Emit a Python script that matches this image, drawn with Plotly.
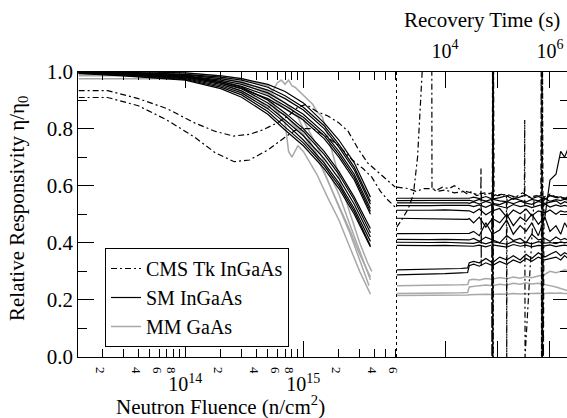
import plotly.graph_objects as go

# ---------------- data: irradiation (left panel) ----------------
F_SM = [1.25e13, 3e13, 1e14, 2e14, 3e14, 5e14, 7e14, 1e15, 1.5e15, 2e15, 2.7e15, 3.7e15]
SM_IRR = [
    [1.000, 1.000, 0.995, 0.985, 0.975, 0.955, 0.930, 0.890, 0.820, 0.760, 0.680, 0.560],
    [1.000, 0.998, 0.990, 0.980, 0.970, 0.945, 0.915, 0.875, 0.810, 0.745, 0.665, 0.545],
    [0.998, 0.995, 0.988, 0.975, 0.962, 0.935, 0.905, 0.865, 0.800, 0.735, 0.655, 0.535],
    [0.997, 0.994, 0.985, 0.970, 0.955, 0.925, 0.890, 0.850, 0.785, 0.720, 0.640, 0.520],
    [0.996, 0.992, 0.982, 0.965, 0.948, 0.915, 0.880, 0.840, 0.775, 0.710, 0.630, 0.510],
    [0.995, 0.990, 0.980, 0.960, 0.940, 0.905, 0.870, 0.830, 0.765, 0.700, 0.620, 0.500],
    [0.998, 0.995, 0.985, 0.965, 0.945, 0.900, 0.855, 0.800, 0.720, 0.650, 0.560, 0.450],
    [0.997, 0.993, 0.982, 0.960, 0.940, 0.890, 0.845, 0.790, 0.710, 0.640, 0.550, 0.435],
    [0.996, 0.990, 0.978, 0.955, 0.932, 0.880, 0.830, 0.775, 0.695, 0.625, 0.535, 0.420],
    [0.995, 0.988, 0.975, 0.950, 0.925, 0.870, 0.820, 0.760, 0.680, 0.610, 0.520, 0.405],
    [0.994, 0.986, 0.972, 0.945, 0.918, 0.860, 0.805, 0.750, 0.670, 0.600, 0.510, 0.390],
    [0.993, 0.985, 0.970, 0.940, 0.910, 0.850, 0.795, 0.740, 0.660, 0.590, 0.500, 0.385],
]

MM_F = [
    [1.25e13, 3e13, 6e13, 1e14, 1.5e14, 2e14, 3e14, 4e14, 5e14, 5.5e14, 6e14, 6.5e14, 7e14, 7.5e14, 8e14,
     8.5e14, 9e14, 1e15, 1.1e15, 1.2e15, 1.3e15, 1.45e15, 1.6e15, 1.8e15, 2.1e15, 2.5e15, 3e15, 3.5e15, 3.8e15],
    [1.25e13, 1e14, 2e14, 3e14, 4e14, 5e14, 5.5e14, 6e14, 7e14, 8e14, 1e15, 1.3e15, 1.6e15, 2e15, 2.5e15, 3e15, 3.7e15],
    [1.25e13, 1e14, 2e14, 3e14, 5e14, 6e14, 7e14, 7.5e14, 8e14, 9e14, 1e15, 1.3e15, 1.6e15, 2e15, 2.5e15, 3e15, 3.7e15],
    [1.25e13, 1e14, 2e14, 3e14, 5e14, 7e14, 9e14, 1e15, 1.3e15, 1.6e15, 2e15, 2.5e15, 3e15, 3.6e15],
    [1.25e13, 1e14, 3e14, 5e14, 7e14, 1e15, 1.3e15, 1.6e15, 2e15, 2.5e15, 3e15, 3.7e15],
]
MM_IRR = [
    [0.990, 0.995, 0.998, 0.995, 0.990, 0.985, 0.975, 0.960, 0.950, 0.930, 0.960, 0.970, 0.955, 0.970, 0.950,
     0.945, 0.935, 0.920, 0.900, 0.885, 0.860, 0.840, 0.780, 0.700, 0.600, 0.500, 0.400, 0.330, 0.300],
    [0.975, 0.975, 0.960, 0.930, 0.905, 0.870, 0.890, 0.860, 0.850, 0.820, 0.780, 0.700, 0.620, 0.530, 0.440, 0.360, 0.280],
    [0.985, 0.985, 0.970, 0.945, 0.900, 0.860, 0.820, 0.720, 0.700, 0.740, 0.720, 0.640, 0.560, 0.480, 0.380, 0.300, 0.220],
    [0.990, 0.990, 0.980, 0.960, 0.920, 0.870, 0.840, 0.800, 0.710, 0.620, 0.530, 0.430, 0.340, 0.250],
    [0.995, 0.990, 0.965, 0.930, 0.890, 0.830, 0.740, 0.660, 0.570, 0.460, 0.370, 0.270],
]

CMS_F = [
    [1.25e13, 2.2e13, 4e13, 7e13, 1.2e14, 1.8e14, 2.55e14, 3.5e14, 4.5e14, 6e14, 7.5e14, 9e14, 1.05e15,
     1.3e15, 1.6e15, 2e15, 2.4e15, 2.9e15, 3.5e15, 4.5e15, 6e15],
    [1.25e13, 2.2e13, 4e13, 7e13, 1.2e14, 1.8e14, 2.6e14, 3.5e14, 5e14, 7e14, 9e14, 1.2e15, 1.6e15,
     2e15, 2.6e15, 3.2e15, 3.8e15, 4.5e15, 5.2e15, 6e15],
]
CMS_IRR = [
    [0.933, 0.933, 0.905, 0.870, 0.820, 0.790, 0.774, 0.780, 0.795, 0.820, 0.845, 0.875, 0.885,
     0.860, 0.845, 0.820, 0.790, 0.730, 0.680, 0.640, 0.595],
    [0.909, 0.909, 0.880, 0.830, 0.770, 0.715, 0.684, 0.690, 0.725, 0.770, 0.800, 0.800, 0.770,
     0.740, 0.690, 0.660, 0.630, 0.580, 0.550, 0.525],
]

# ---------------- data: recovery (right panel) ----------------
T_REC = [1200, 2500, 5000, 10000, 20000, 27000, 29000, 35000, 45000, 60000, 80000, 1.1e5,
         1.5e5, 2e5, 2.7e5, 3.5e5, 4.5e5, 6e5, 8e5, 1e6, 1.3e6, 1.6e6, 1.9e6, 2.2e6]
SM_REC = [
    [0.556, 0.556, 0.557, 0.558, 0.558, 0.557, 0.556, 0.560, 0.555, 0.562, 0.553, 0.558, 0.565, 0.552, 0.560, 0.568, 0.555, 0.562, 0.552, 0.566, 0.558, 0.561, 0.554, 0.560],
    [0.548, 0.548, 0.548, 0.549, 0.548, 0.548, 0.549, 0.545, 0.552, 0.546, 0.553, 0.547, 0.544, 0.556, 0.548, 0.543, 0.552, 0.547, 0.556, 0.545, 0.551, 0.548, 0.553, 0.549],
    [0.540, 0.540, 0.541, 0.542, 0.541, 0.540, 0.538, 0.543, 0.536, 0.545, 0.538, 0.534, 0.544, 0.537, 0.546, 0.539, 0.535, 0.545, 0.538, 0.542, 0.547, 0.536, 0.544, 0.540],
    [0.530, 0.529, 0.530, 0.531, 0.530, 0.529, 0.531, 0.527, 0.533, 0.524, 0.535, 0.528, 0.522, 0.534, 0.527, 0.531, 0.523, 0.530, 0.536, 0.525, 0.533, 0.528, 0.531, 0.527],
    [0.514, 0.513, 0.514, 0.515, 0.514, 0.513, 0.512, 0.505, 0.518, 0.498, 0.512, 0.520, 0.490, 0.515, 0.502, 0.518, 0.495, 0.512, 0.505, 0.515, 0.500, 0.512, 0.508, 0.510],
    [0.486, 0.485, 0.484, 0.483, 0.484, 0.482, 0.485, 0.470, 0.490, 0.455, 0.485, 0.470, 0.500, 0.460, 0.490, 0.475, 0.500, 0.465, 0.490, 0.620, 0.640, 0.720, 0.700, 0.730],
    [0.432, 0.432, 0.433, 0.434, 0.433, 0.432, 0.433, 0.440, 0.425, 0.470, 0.430, 0.445, 0.480, 0.430, 0.460, 0.440, 0.470, 0.425, 0.490, 0.440, 0.460, 0.430, 0.470, 0.450],
    [0.412, 0.411, 0.411, 0.412, 0.411, 0.410, 0.410, 0.415, 0.405, 0.420, 0.410, 0.400, 0.425, 0.408, 0.415, 0.400, 0.430, 0.410, 0.415, 0.405, 0.420, 0.410, 0.415, 0.410],
    [0.402, 0.401, 0.401, 0.402, 0.401, 0.400, 0.400, 0.398, 0.403, 0.396, 0.404, 0.399, 0.395, 0.405, 0.398, 0.402, 0.396, 0.404, 0.399, 0.401, 0.397, 0.403, 0.400, 0.402],
    [0.391, 0.390, 0.390, 0.391, 0.390, 0.389, 0.390, 0.388, 0.392, 0.386, 0.393, 0.389, 0.385, 0.394, 0.388, 0.392, 0.386, 0.391, 0.389, 0.393, 0.387, 0.390, 0.392, 0.389],
    [0.305, 0.306, 0.307, 0.309, 0.310, 0.312, 0.330, 0.335, 0.330, 0.345, 0.330, 0.350, 0.340, 0.355, 0.340, 0.360, 0.345, 0.365, 0.350, 0.360, 0.370, 0.355, 0.365, 0.360],
    [0.288, 0.289, 0.290, 0.292, 0.295, 0.296, 0.320, 0.325, 0.318, 0.330, 0.320, 0.335, 0.325, 0.340, 0.330, 0.345, 0.335, 0.350, 0.340, 0.345, 0.350, 0.340, 0.355, 0.345],
]
MM_REC = [
    [0.250, 0.250, 0.251, 0.252, 0.253, 0.254, 0.270, 0.272, 0.270, 0.275, 0.272, 0.278, 0.274, 0.280, 0.276, 0.282, 0.278, 0.285, 0.290, 0.300, 0.295, 0.300, 0.305, 0.300],
    [0.222, 0.222, 0.223, 0.224, 0.225, 0.226, 0.245, 0.248, 0.250, 0.252, 0.250, 0.255, 0.252, 0.258, 0.255, 0.260, 0.256, 0.258, 0.252, 0.250, 0.245, 0.240, 0.235, 0.232],
    [0.215, 0.215, 0.216, 0.216, 0.217, 0.217, 0.218, 0.219, 0.218, 0.220, 0.219, 0.221, 0.220, 0.222, 0.221, 0.222, 0.221, 0.223, 0.222, 0.224, 0.223, 0.224, 0.222, 0.223],
]
CMS_T = [
    [1200, 2000, 2800, 4000, 5600, 7000, 9000, 12000, 15000, 20000, 27000, 32000, 40000, 48000, 48500,
     49000, 49500, 60000, 78000, 79000, 80000, 81000, 82000, 83000, 84000, 85000, 86000, 1e5, 1.5e5,
     2.2e5, 3e5, 4e5, 5.5e5, 7e5, 7.1e5, 7.2e5, 7.3e5, 7.4e5, 7.5e5, 7.7e5, 1e6, 1.5e6, 2.2e6],
    [1200, 1500, 2000, 2500, 3000, 3800, 5600, 5650, 7000, 10000, 15000, 25000, 40000, 60000, 78000,
     79000, 80500, 81500, 83000, 84000, 1.2e5, 1.48e5, 1.5e5, 1.52e5, 2.2e5, 3.25e5, 3.3e5, 3.35e5, 5e5,
     6.7e5, 6.8e5, 6.9e5, 7e5, 7.2e5, 7.4e5, 1e6, 1.5e6, 2.2e6],
]
CMS_REC = [
    [0.595, 0.590, 0.580, 0.590, 0.590, 0.585, 0.595, 0.590, 0.600, 0.585, 0.570, 0.580, 0.565, 0.570, 0.660,
     0.320, 0.570, 0.570, 0.575, 0.000, 1.050, 0.000, 1.050, 0.000, 1.050, 0.000, 0.570, 0.565, 0.570,
     0.560, 0.575, 0.560, 0.565, 0.560, 0.000, 1.050, 0.000, 1.050, 0.000, 0.560, 0.570, 0.555, 0.560],
    [0.455, 0.480, 0.520, 0.570, 0.700, 1.050, 1.050, 0.590, 0.580, 0.585, 0.575, 0.580, 0.570, 0.575, 0.570,
     0.000, 1.050, 0.000, 1.050, 0.565, 0.570, 0.565, 0.000, 0.565, 0.560, 0.565, 0.830, 0.000, 0.560,
     0.565, 1.050, 0.000, 1.050, 0.000, 0.560, 0.565, 0.560, 0.555],
]

FIG_W, FIG_H = 567, 418
FONT = '"Liberation Serif", "Times New Roman", Times, serif'

fig = go.Figure()

BLACK = "black"
GRAY = "#a8a8a8"
CMS_DASH = "6px,3px,2px,3px"

# gray MM GaAs
for i, (f, v) in enumerate(zip(MM_F, MM_IRR)):
    fig.add_trace(go.Scatter(x=f, y=v, mode="lines", line=dict(color=GRAY, width=1.5),
                             name="MM GaAs", legendgroup="mm", showlegend=(i == 0), legendrank=3,
                             xaxis="x", yaxis="y"))
for v in MM_REC:
    fig.add_trace(go.Scatter(x=T_REC, y=v, mode="lines", line=dict(color=GRAY, width=1.5),
                             legendgroup="mm", showlegend=False, xaxis="x2", yaxis="y"))
# black SM InGaAs
for i, v in enumerate(SM_IRR):
    fig.add_trace(go.Scatter(x=F_SM, y=v, mode="lines", line=dict(color=BLACK, width=1.2),
                             name="SM InGaAs", legendgroup="sm", showlegend=(i == 0), legendrank=2,
                             xaxis="x", yaxis="y"))
for v in SM_REC:
    fig.add_trace(go.Scatter(x=T_REC, y=v, mode="lines", line=dict(color=BLACK, width=1.2),
                             legendgroup="sm", showlegend=False, xaxis="x2", yaxis="y"))
# CMS Tk InGaAs
for i, (f, v) in enumerate(zip(CMS_F, CMS_IRR)):
    fig.add_trace(go.Scatter(x=f, y=v, mode="lines", line=dict(color=BLACK, width=1.2, dash=CMS_DASH),
                             name="CMS Tk InGaAs", legendgroup="cms", showlegend=(i == 0), legendrank=1,
                             xaxis="x", yaxis="y"))
for t, v in zip(CMS_T, CMS_REC):
    fig.add_trace(go.Scatter(x=t, y=v, mode="lines", line=dict(color=BLACK, width=1.2, dash=CMS_DASH),
                             legendgroup="cms", showlegend=False, xaxis="x2", yaxis="y"))
# empty carrier traces so the decade-tick axis (x3) and right tick axis (y2) are drawn
fig.add_trace(go.Scatter(x=[], y=[], mode="lines", showlegend=False, hoverinfo="skip",
                         xaxis="x3", yaxis="y"))
fig.add_trace(go.Scatter(x=[], y=[], mode="lines", showlegend=False, hoverinfo="skip",
                         xaxis="x2", yaxis="y2"))

# ---------------- axes ----------------
XL = [78.3 / FIG_W, 396.5 / FIG_W]
YD = [1 - 357 / FIG_H, 1 - 71.5 / FIG_H]

minor_vals, minor_text = [], []
for dec in (1e13, 1e14, 1e15):
    for m in range(2, 10):
        if dec == 1e15 and m > 6:
            break
        minor_vals.append(m * dec)
        minor_text.append(str(m) if m in (2, 4, 6, 8) else " ")

common = dict(showgrid=False, zeroline=False, linecolor="black", linewidth=1,
              tickcolor="black", tickwidth=1, automargin=False)

fig.update_layout(
    width=FIG_W, height=FIG_H,
    margin=dict(l=0, r=0, t=0, b=0, pad=0, autoexpand=False),
    paper_bgcolor="white", plot_bgcolor="white",
    font=dict(family=FONT, color="black", size=20),
    xaxis=dict(type="log", domain=XL, range=[13.094, 15.789], anchor="y",
               tickmode="array", tickvals=minor_vals, ticktext=minor_text,
               ticks="inside", ticklen=8, mirror="ticks", showline=True,
               tickfont=dict(size=13, family=FONT), **common),
    xaxis3=dict(type="log", overlaying="x", range=[13.094, 15.789], anchor="y", side="bottom",
                tickmode="array", tickvals=[1e14, 1e15],
                ticktext=["10<sup>14</sup>", "10<sup>15</sup>"],
                ticks="inside", ticklen=16, mirror="ticks", showline=False,
                ticklabelstandoff=13, tickfont=dict(size=20, family=FONT), **common),
    xaxis2=dict(type="log", domain=[XL[1], 1.0], range=[3.076, 6.324], anchor="y", side="top",
                tickmode="array", tickvals=[1e4, 1e5, 1e6],
                ticktext=["10<sup>4</sup>", " ", "10<sup>6</sup>"],
                ticks="inside", ticklen=16, mirror="ticks", showline=True,
                ticklabelstandoff=5, tickfont=dict(size=20, family=FONT), **common),
    yaxis=dict(domain=YD, range=[0, 1], anchor="x",
               tickmode="array", tickvals=[0, 0.2, 0.4, 0.6, 0.8, 1.0],
               ticktext=["0.0", "0.2", "0.4", "0.6", "0.8", "1.0"],
               ticks="inside", ticklen=16, showline=True,
               minor=dict(tickvals=[0.1, 0.3, 0.5, 0.7, 0.9], ticks="inside", ticklen=9,
                          tickcolor="black", showgrid=False),
               tickfont=dict(size=21, family=FONT), **common),
    yaxis2=dict(overlaying="y", anchor="x2", side="right", range=[0, 1],
                tickmode="array", tickvals=[0, 0.2, 0.4, 0.6, 0.8, 1.0],
                ticks="inside", ticklen=14, showticklabels=False, showline=False,
                minor=dict(tickvals=[0.1, 0.3, 0.5, 0.7, 0.9], ticks="inside", ticklen=7,
                           tickcolor="black", showgrid=False),
                **common),
    legend=dict(x=105 / FIG_W, y=1 - 248 / FIG_H, xanchor="left", yanchor="top",
                bordercolor="black", borderwidth=1, bgcolor="white",
                font=dict(size=20, family=FONT), tracegroupgap=0, itemwidth=30),
    shapes=[dict(type="line", xref="x2 domain", yref="y domain", x0=0, x1=0, y0=0, y1=1,
                 line=dict(color="black", width=1, dash="dot"))],
    annotations=[
        dict(text="Recovery Time (s)", xref="paper", yref="paper", x=482 / FIG_W, y=1 - 20 / FIG_H,
             showarrow=False, font=dict(size=21, family=FONT), xanchor="center", yanchor="middle"),
        dict(text="Neutron Fluence (n/cm<sup>2</sup>)", xref="paper", yref="paper",
             x=220 / FIG_W, y=1 - 405 / FIG_H, showarrow=False, font=dict(size=21, family=FONT),
             xanchor="center", yanchor="middle"),
        dict(text="Relative Responsivity η/η<sub>0</sub>", xref="paper", yref="paper",
             x=18 / FIG_W, y=1 - 209 / FIG_H, showarrow=False, textangle=-90,
             font=dict(size=21, family=FONT), xanchor="center", yanchor="middle"),
    ],
)

fig.write_html("out.html", config={"displayModeBar": False},
               post_script="document.body.style.margin='0px';document.body.style.overflow='hidden';")
